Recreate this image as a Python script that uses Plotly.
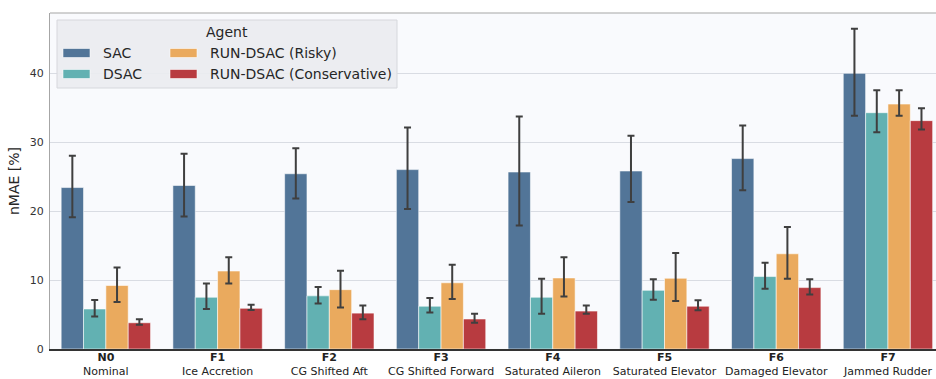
import plotly.graph_objects as go

codes = ["N0", "F1", "F2", "F3", "F4", "F5", "F6", "F7"]
names = ["Nominal", "Ice Accretion", "CG Shifted Aft", "CG Shifted Forward",
         "Saturated Aileron", "Saturated Elevator", "Damaged Elevator", "Jammed Rudder"]

agents = ["SAC", "DSAC", "RUN-DSAC (Risky)", "RUN-DSAC (Conservative)"]
colors = ["#527598", "#62b1b2", "#eaaa5e", "#b83b40"]

sac_mean = [23.4, 23.7, 25.4, 26.0, 25.65, 25.8, 27.6, 39.95]
sac_hi = [28.0, 28.3, 29.1, 32.1, 33.7, 30.9, 32.4, 46.4]
sac_lo = [19.1, 19.2, 21.8, 20.3, 17.9, 21.3, 23.0, 33.8]

dsac_mean = [5.8, 7.5, 7.7, 6.2, 7.5, 8.5, 10.5, 34.25]
dsac_hi = [7.1, 9.5, 9.0, 7.4, 10.2, 10.1, 12.5, 37.5]
dsac_lo = [4.7, 5.8, 6.6, 5.3, 5.1, 7.15, 8.75, 31.4]

risky_mean = [9.2, 11.3, 8.6, 9.6, 10.3, 10.25, 13.8, 35.5]
risky_hi = [11.8, 13.3, 11.35, 12.2, 13.3, 13.9, 17.7, 37.5]
risky_lo = [6.8, 9.5, 6.0, 7.25, 7.6, 6.95, 10.2, 33.8]

cons_mean = [3.8, 5.9, 5.2, 4.35, 5.5, 6.2, 8.9, 33.1]
cons_hi = [4.3, 6.4, 6.3, 5.1, 6.3, 7.05, 10.1, 34.9]
cons_lo = [3.5, 5.65, 4.3, 3.8, 5.1, 5.6, 7.9, 31.8]

y_ticks = [0, 10, 20, 30, 40]

series = [
    (sac_mean, sac_hi, sac_lo),
    (dsac_mean, dsac_hi, dsac_lo),
    (risky_mean, risky_hi, risky_lo),
    (cons_mean, cons_hi, cons_lo),
]

tick_text = [f"<b>{c}</b><br>{n}" for c, n in zip(codes, names)]

fig = go.Figure()
for agent, color, (m, hi, lo) in zip(agents, colors, series):
    fig.add_trace(go.Bar(
        name=agent,
        x=list(range(len(codes))),
        y=m,
        marker=dict(color=color, line=dict(color="rgba(255,255,255,0.55)", width=1)),
        error_y=dict(type="data", symmetric=False,
                     array=[h - v for h, v in zip(hi, m)],
                     arrayminus=[v - l for v, l in zip(m, lo)],
                     color="#3f3f3f", thickness=2, width=3.5),
        showlegend=False,
    ))

# layout geometry in pixels
W, H = 936, 379
L, R, T, B = 50, 0, 13, 30
pw, ph = W - L - R, H - T - B


def px(x):
    return (x - L) / pw


def py(y):
    return (H - B - y) / ph


shapes = []
annotations = []
# top spine
shapes.append(dict(type="line", xref="paper", yref="paper", x0=0, x1=1, y0=1, y1=1,
                   line=dict(color="#a6a6a6", width=1.2)))
# legend box
shapes.append(dict(type="rect", xref="paper", yref="paper",
                   x0=px(57), x1=px(397), y0=py(88), y1=py(20),
                   fillcolor="rgba(234,235,240,0.92)", line=dict(color="#d6d7dc", width=1)))
annotations.append(dict(text="Agent", xref="paper", yref="paper", x=px(227), y=py(32),
                        xanchor="center", yanchor="middle", showarrow=False,
                        font=dict(size=14, color="#262626", family="DejaVu Sans")))
legend_pos = [(63, 53), (63, 74), (170, 53), (170, 74)]
for agent, color, (lx, ly) in zip(agents, colors, legend_pos):
    shapes.append(dict(type="rect", xref="paper", yref="paper",
                       x0=px(lx), x1=px(lx + 27), y0=py(ly + 4.5), y1=py(ly - 4.5),
                       fillcolor=color, line=dict(color="rgba(255,255,255,0.55)", width=1)))
    annotations.append(dict(text=agent, xref="paper", yref="paper", x=px(lx + 38), y=py(ly),
                            xanchor="left", yanchor="middle", showarrow=False,
                            font=dict(size=14, color="#262626", family="DejaVu Sans")))

fig.update_layout(
    width=W, height=H,
    margin=dict(l=L, r=R, t=T, b=B),
    paper_bgcolor="white",
    plot_bgcolor="#f9fafd",
    barmode="group", bargap=0.2, bargroupgap=0,
    font=dict(family="DejaVu Sans", color="#262626"),
    shapes=shapes,
    annotations=annotations,
    xaxis=dict(range=[-0.5, 7.43], tickmode="array", tickvals=list(range(len(codes))),
               ticktext=tick_text, tickfont=dict(size=11, color="#222222"),
               showline=True, linecolor="#333333", linewidth=1.5, showgrid=False,
               ticks="", zeroline=False, automargin=False, ticklabelstandoff=-3),
    yaxis=dict(range=[0, 48.7], tickmode="array", tickvals=y_ticks,
               tickfont=dict(size=11, color="#333333"),
               showline=True, linecolor="#a6a6a6", linewidth=1.2,
               gridcolor="#d9dce3", gridwidth=1, zeroline=False, ticks="",
               ticklabelstandoff=3, automargin=False,
               title=dict(text="nMAE [%]", font=dict(size=14, color="#262626"), standoff=6)),
)

fig.write_html("out.html")
